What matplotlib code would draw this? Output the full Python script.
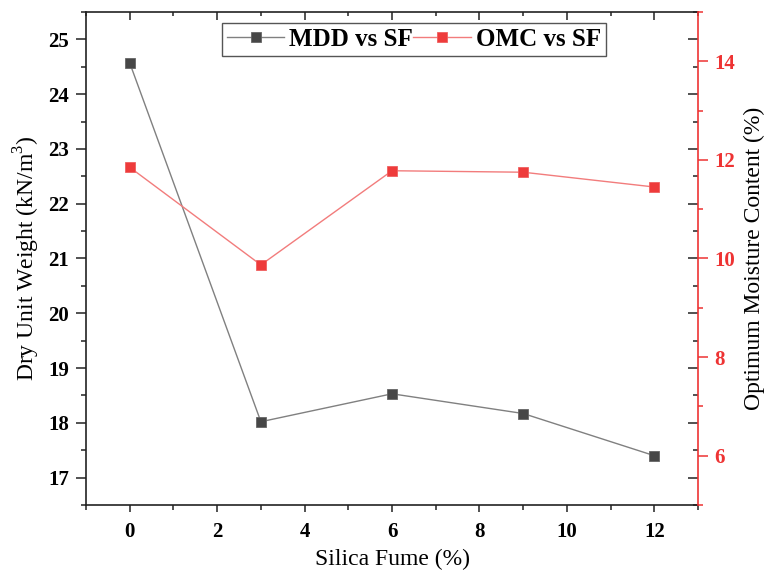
import numpy as np
import matplotlib
matplotlib.use("Agg")
import matplotlib.pyplot as plt
from matplotlib.ticker import MultipleLocator

# ── data ─────────────────────────────────────────────────────────────────────
silica_fume = [0, 3, 6, 9, 12]
mdd = [24.57, 18.02, 18.53, 18.17, 17.40]
omc = [11.85, 9.87, 11.78, 11.75, 11.45]

RED = "#ee3333"
plt.rcParams["font.family"] = ["Liberation Serif", "DejaVu Serif"]
plt.rcParams["mathtext.fontset"] = "custom"
plt.rcParams["mathtext.rm"] = "Liberation Serif"

fig = plt.figure(figsize=(7.66, 5.71), dpi=100)
ax = fig.add_axes([0.1123, 0.1156, 0.799, 0.8634])

# ── MDD on left axis ─────────────────────────────────────────────────────────
l1, = ax.plot(silica_fume, mdd, color="#808080", lw=1.0, marker="s", ms=6.5,
              mfc="#474747", mec="#666666", mew=0.6, label="MDD vs SF", zorder=3)
ax.set_xlim(-1, 13)
ax.set_ylim(16.5, 25.5)
ax.xaxis.set_major_locator(MultipleLocator(2))
ax.xaxis.set_minor_locator(MultipleLocator(1))
ax.yaxis.set_major_locator(MultipleLocator(1))
ax.yaxis.set_minor_locator(MultipleLocator(0.5))
ax.tick_params(axis="y", which="major", direction="out", length=7, width=1.1,
               labelsize=15, color="#222222", pad=5)
ax.tick_params(axis="x", which="major", direction="out", length=5, width=1.1,
               labelsize=15, color="#222222", pad=7)
ax.tick_params(axis="both", which="minor", direction="out", length=3.5, width=1.1,
               color="#222222")
for lbl in ax.get_xticklabels() + ax.get_yticklabels():
    lbl.set_fontweight("bold")
ax.spines["right"].set_visible(False)
for s in ("left", "top", "bottom"):
    ax.spines[s].set_linewidth(1.2)
    ax.spines[s].set_color("#222222")
ax.set_xlabel("Silica Fume (%)", fontsize=17, labelpad=5)
ax.set_ylabel("Dry Unit Weight (kN/m$^3$)", fontsize=17, labelpad=5)

# mirrored inward ticks (top / right of left scale)
top = ax.secondary_xaxis("top")
top.xaxis.set_major_locator(MultipleLocator(2))
top.xaxis.set_minor_locator(MultipleLocator(1))
top.tick_params(which="major", direction="in", length=6, width=1.1, labeltop=False,
                color="#222222")
top.tick_params(which="minor", direction="in", length=3, width=1.1, color="#222222")
top.spines["top"].set_visible(False)

rgt = ax.secondary_yaxis("right")
rgt.yaxis.set_major_locator(MultipleLocator(1))
rgt.yaxis.set_minor_locator(MultipleLocator(0.5))
rgt.tick_params(which="major", direction="in", length=7, width=1.1, labelright=False,
                color="#222222")
rgt.tick_params(which="minor", direction="in", length=3.5, width=1.1, color="#222222")
rgt.spines["right"].set_visible(False)

# ── OMC on right axis ────────────────────────────────────────────────────────
ax2 = ax.twinx()
l2, = ax2.plot(silica_fume, omc, color="#f27c7c", lw=1.0, marker="s", ms=6.5,
               mfc="#ee3b3b", mec="#f06060", mew=0.6, label="OMC vs SF", zorder=3)
ax2.set_ylim(5, 15)
ax2.yaxis.set_major_locator(MultipleLocator(2))
ax2.yaxis.set_minor_locator(MultipleLocator(1))
ax2.tick_params(axis="y", which="major", direction="out", length=7, width=1.1,
                colors=RED, labelsize=15, pad=5)
ax2.tick_params(axis="y", which="minor", direction="out", length=3.5, width=1.1,
                color=RED)
for lbl in ax2.get_yticklabels():
    lbl.set_fontweight("bold")
ax2.spines["right"].set_color(RED)
ax2.spines["right"].set_linewidth(1.2)
for s in ("left", "top", "bottom"):
    ax2.spines[s].set_visible(False)
ax2.set_ylabel("Optimum Moisture Content (%)", fontsize=17, labelpad=6)

leg = ax.legend(handles=[l1, l2], loc="upper left", bbox_to_anchor=(0.222, 0.978),
                borderaxespad=0, ncol=2, fancybox=False, framealpha=1,
                edgecolor="#555555", handlelength=2.3, handletextpad=0.2,
                columnspacing=0.0, borderpad=0.2,
                prop={"size": 18, "weight": "bold"})
leg.get_frame().set_linewidth(1.0)
leg.set_zorder(10)

fig.savefig("out.png", dpi=100)
